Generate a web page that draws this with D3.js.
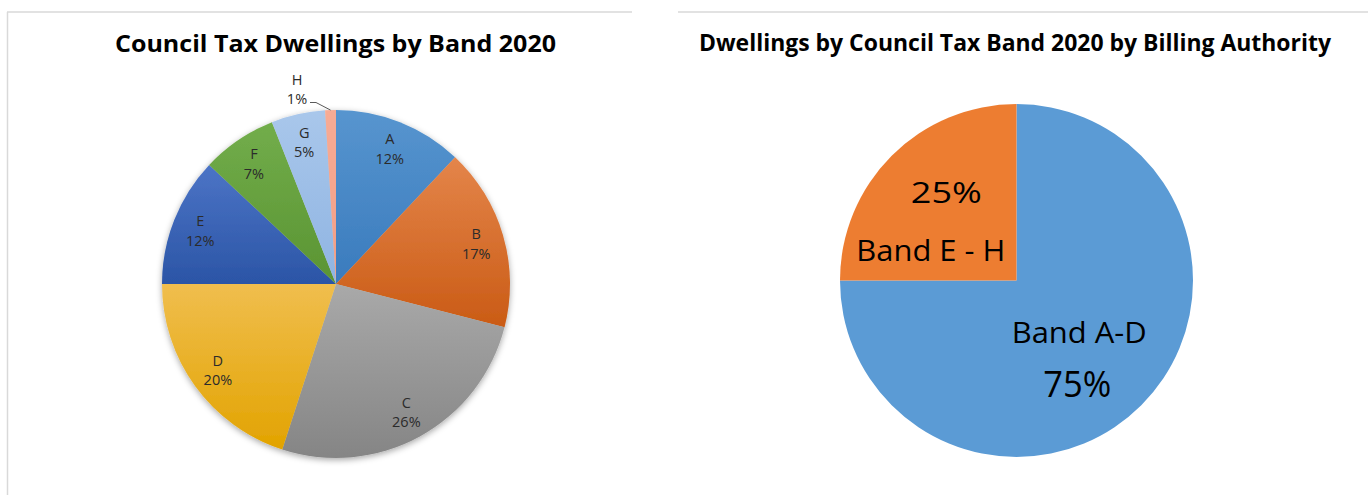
<!DOCTYPE html>
<html>
<head>
<meta charset="utf-8">
<script src="https://cdn.jsdelivr.net/npm/d3@7"></script>
<style>
  html, body { margin: 0; padding: 0; background: #fff; }
  svg { display: block; font-family: "Open Sans", "Noto Sans", sans-serif; }
</style>
</head>
<body>
<svg id="chart" width="1368" height="495"></svg>
<script>
// Council tax bands, share of dwellings (%)
const bands = ["A", "B", "C", "D", "E", "F", "G", "H"];
const bandShares = [12, 17, 26, 20, 12, 7, 5, 1];

// Grouped bands, share of dwellings (%)
const groups = ["Band A-D", "Band E - H"];
const groupShares = [75, 25];

const titles = [
  "Council Tax Dwellings by Band 2020",
  "Dwellings by Council Tax Band 2020 by Billing Authority"
];

// Top/bottom colours of each band's gradient fill
const bandTop = ["#5795cf", "#e4854a", "#a9a9a9", "#f0be4e", "#4c74c6", "#72ad4b", "#a9c7eb", "#f7ab95"];
const bandBottom = ["#3a7bbd", "#ca5b15", "#858585", "#e2a300", "#2b55a6", "#5a9432", "#8fb4e2", "#f29e85"];
const groupColors = ["#5b9bd5", "#ed7d31"];

const svg = d3.select("#chart");
const defs = svg.append("defs");

// panel frames
svg.append("line").attr("x1", 7).attr("x2", 632).attr("y1", 12).attr("y2", 12)
  .attr("stroke", "#d9d9d9").attr("stroke-width", 1.5);
svg.append("line").attr("x1", 7.5).attr("x2", 7.5).attr("y1", 12).attr("y2", 495)
  .attr("stroke", "#d9d9d9").attr("stroke-width", 1.5);
svg.append("line").attr("x1", 678).attr("x2", 1368).attr("y1", 12).attr("y2", 12)
  .attr("stroke", "#d9d9d9").attr("stroke-width", 1.5);

// titles
function title(text, cx, y, len) {
  svg.append("text")
    .attr("x", cx).attr("y", y)
    .attr("text-anchor", "middle")
    .attr("font-size", 24).attr("font-weight", 700)
    .attr("fill", "#000")
    .attr("textLength", len).attr("lengthAdjust", "spacingAndGlyphs")
    .text(text);
}
title(titles[0], 335.5, 51.5, 441);
title(titles[1], 1015, 51, 632);

const pie = d3.pie().sort(null).value(d => d);

// ---------- left: all bands ----------
const L = { cx: 336, cy: 284, r: 174 };
const bandArcs = pie(bandShares);

bandArcs.forEach((d, i) => {
  const g = defs.append("linearGradient")
    .attr("id", "band-grad-" + i)
    .attr("x1", 0).attr("y1", 0).attr("x2", 0).attr("y2", 1);
  g.append("stop").attr("offset", "0%").attr("stop-color", bandTop[i]);
  g.append("stop").attr("offset", "100%").attr("stop-color", bandBottom[i]);
});

const shadow = defs.append("filter").attr("id", "pie-shadow")
  .attr("x", "-20%").attr("y", "-20%").attr("width", "140%").attr("height", "140%");
shadow.append("feDropShadow")
  .attr("dx", 0).attr("dy", 2).attr("stdDeviation", 3)
  .attr("flood-color", "#000").attr("flood-opacity", 0.35);

const left = svg.append("g").attr("transform", `translate(${L.cx},${L.cy})`);
const arcL = d3.arc().innerRadius(0).outerRadius(L.r);
const labelArcL = d3.arc().innerRadius(146).outerRadius(146);

left.append("g").attr("filter", "url(#pie-shadow)")
  .selectAll("path").data(bandArcs).join("path")
  .attr("d", arcL)
  .attr("fill", (d, i) => `url(#band-grad-${i})`);

// labels inside the slices (all except the smallest one)
const labelColor = "#2b2b2b";
const inside = bandArcs.filter(d => d.index < bands.length - 1);
const lbl = left.selectAll("g.lbl").data(inside).join("g")
  .attr("class", "lbl")
  .attr("transform", d => `translate(${labelArcL.centroid(d)})`);
lbl.append("text").attr("text-anchor", "middle").attr("y", -4)
  .attr("font-size", 14.5).attr("fill", labelColor)
  .text(d => bands[d.index]);
lbl.append("text").attr("text-anchor", "middle").attr("y", 15.5)
  .attr("font-size", 14.5).attr("fill", labelColor)
  .text(d => d.data + "%");

// smallest slice: label outside with a leader line
const hArc = bandArcs[bands.length - 1];
const hMid = (hArc.startAngle + hArc.endAngle) / 2;
const hEdge = [L.r * Math.sin(hMid), -L.r * Math.cos(hMid)];
const hLabel = [-39, -180];
left.append("polyline")
  .attr("points", [[hLabel[0] + 13, hLabel[1] - 1.5], [hLabel[0] + 19, hLabel[1] - 1.5], hEdge].map(p => p.join(",")).join(" "))
  .attr("fill", "none").attr("stroke", "#595959").attr("stroke-width", 1);
left.append("text").attr("x", hLabel[0]).attr("y", hLabel[1] - 19.5)
  .attr("text-anchor", "middle").attr("font-size", 14.5).attr("fill", labelColor)
  .text(bands[hArc.index]);
left.append("text").attr("x", hLabel[0]).attr("y", hLabel[1])
  .attr("text-anchor", "middle").attr("font-size", 14.5).attr("fill", labelColor)
  .text(hArc.data + "%");

// ---------- right: grouped bands ----------
const R = { cx: 1016.5, cy: 280.5, r: 176.5 };
const groupArcs = pie(groupShares);
const right = svg.append("g").attr("transform", `translate(${R.cx},${R.cy})`);
const arcR = d3.arc().innerRadius(0).outerRadius(R.r);
const labelArcR = d3.arc().innerRadius(100).outerRadius(100);

right.selectAll("path").data(groupArcs).join("path")
  .attr("d", arcR)
  .attr("fill", (d, i) => groupColors[i]);

// label lines per slice: [text, dx, dy, font size, width]
function groupLines(d) {
  const pct = d.data + "%";
  const name = groups[d.index];
  return d.index === 0
    ? [[name, -8, -8, 29, 135], [pct, -10, 46, 37, 68]]
    : [[pct, 0.5, -7, 30, 71], [name, -15, 51, 30, 149]];
}
groupArcs.forEach(d => {
  const [x, y] = labelArcR.centroid(d);
  groupLines(d).forEach(([t, dx, dy, fs, w]) => {
    right.append("text")
      .attr("x", x + dx).attr("y", y + dy)
      .attr("text-anchor", "middle")
      .attr("font-size", fs).attr("fill", "#000")
      .attr("textLength", w).attr("lengthAdjust", "spacingAndGlyphs")
      .text(t);
  });
});
</script>
</body>
</html>
